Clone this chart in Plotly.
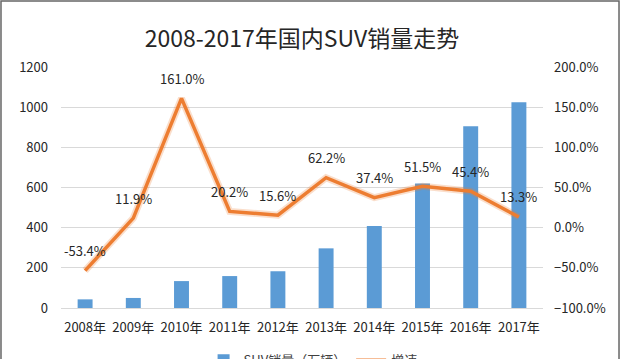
import plotly.graph_objects as go

years = ["2008年", "2009年", "2010年", "2011年", "2012年", "2013年", "2014年", "2015年", "2016年", "2017年"]
sales = [43, 50, 134, 159, 183, 297, 408, 620, 905, 1025]
growth = [-53.4, 11.9, 161.0, 20.2, 15.6, 62.2, 37.4, 51.5, 45.4, 13.3]
growth_labels = ["-53.4%", "11.9%", "161.0%", "20.2%", "15.6%", "62.2%", "37.4%", "51.5%", "45.4%", "13.3%"]

FONT = "Noto Sans CJK SC, Microsoft YaHei, sans-serif"
BLUE = "#5B9BD5"
ORANGE = "#ED7D31"

fig = go.Figure()
fig.add_trace(go.Bar(x=years, y=sales, name="SUV销量（万辆）", marker=dict(color=BLUE, line=dict(width=0)), yaxis="y"))
fig.add_trace(go.Scatter(x=years, y=growth, mode="lines", line=dict(color="rgba(237,125,49,0.25)", width=7),
                         yaxis="y2", showlegend=False, hoverinfo="skip"))
fig.add_trace(go.Scatter(x=years, y=growth, name="增速", mode="lines", line=dict(color=ORANGE, width=3.5), yaxis="y2"))

for xv, yv, t in zip(years, growth, growth_labels):
    fig.add_annotation(x=xv, y=yv, xref="x", yref="y2", text=t, showarrow=False,
                       yanchor="middle", yshift=20, font=dict(family=FONT, size=13, color="#262626"))

fig.add_shape(type="rect", xref="paper", yref="paper", x0=-0.1245, x1=1.1577, y0=-0.5, y1=1.274,
              line=dict(color="#666666", width=1.5), fillcolor="rgba(0,0,0,0)", layer="above")

fig.update_layout(
    width=620, height=359,
    margin=dict(l=61, r=77, t=67, b=51, autoexpand=False),
    paper_bgcolor="white", plot_bgcolor="white",
    title=dict(text="2008-2017年国内SUV销量走势", x=0.5, xref="paper", xanchor="center",
               y=1 - 39 / 359, yref="container", yanchor="middle",
               font=dict(family=FONT, size=23, color="#262626")),
    bargap=0.69,
    font=dict(family=FONT, size=13, color="#404040"),
    xaxis=dict(type="category", showgrid=False, showline=False, ticks="", ticklabelstandoff=10,
               tickfont=dict(family=FONT, size=13, color="#262626")),
    yaxis=dict(range=[0, 1200], dtick=200, showgrid=True, gridcolor="#D9D9D9", gridwidth=1,
               zeroline=True, zerolinecolor="#D9D9D9", zerolinewidth=1, showline=False, ticks="",
               ticklabelstandoff=12, tickfont=dict(family=FONT, size=13, color="#262626")),
    yaxis2=dict(range=[-100, 200], dtick=50, overlaying="y", side="right", showgrid=False,
                zeroline=False, showline=False, ticks="", tickformat=".1f", ticksuffix="%",
                ticklabelstandoff=10, tickfont=dict(family=FONT, size=13, color="#262626")),
    legend=dict(orientation="h", x=0.523, xanchor="center", y=-0.155, yanchor="top",
                font=dict(family=FONT, size=13, color="#404040"), traceorder="normal"),
    showlegend=True,
)

fig.write_html("out.html", config={"displayModeBar": False},
               post_script="document.body.style.margin='0px';document.body.style.overflow='hidden';")
